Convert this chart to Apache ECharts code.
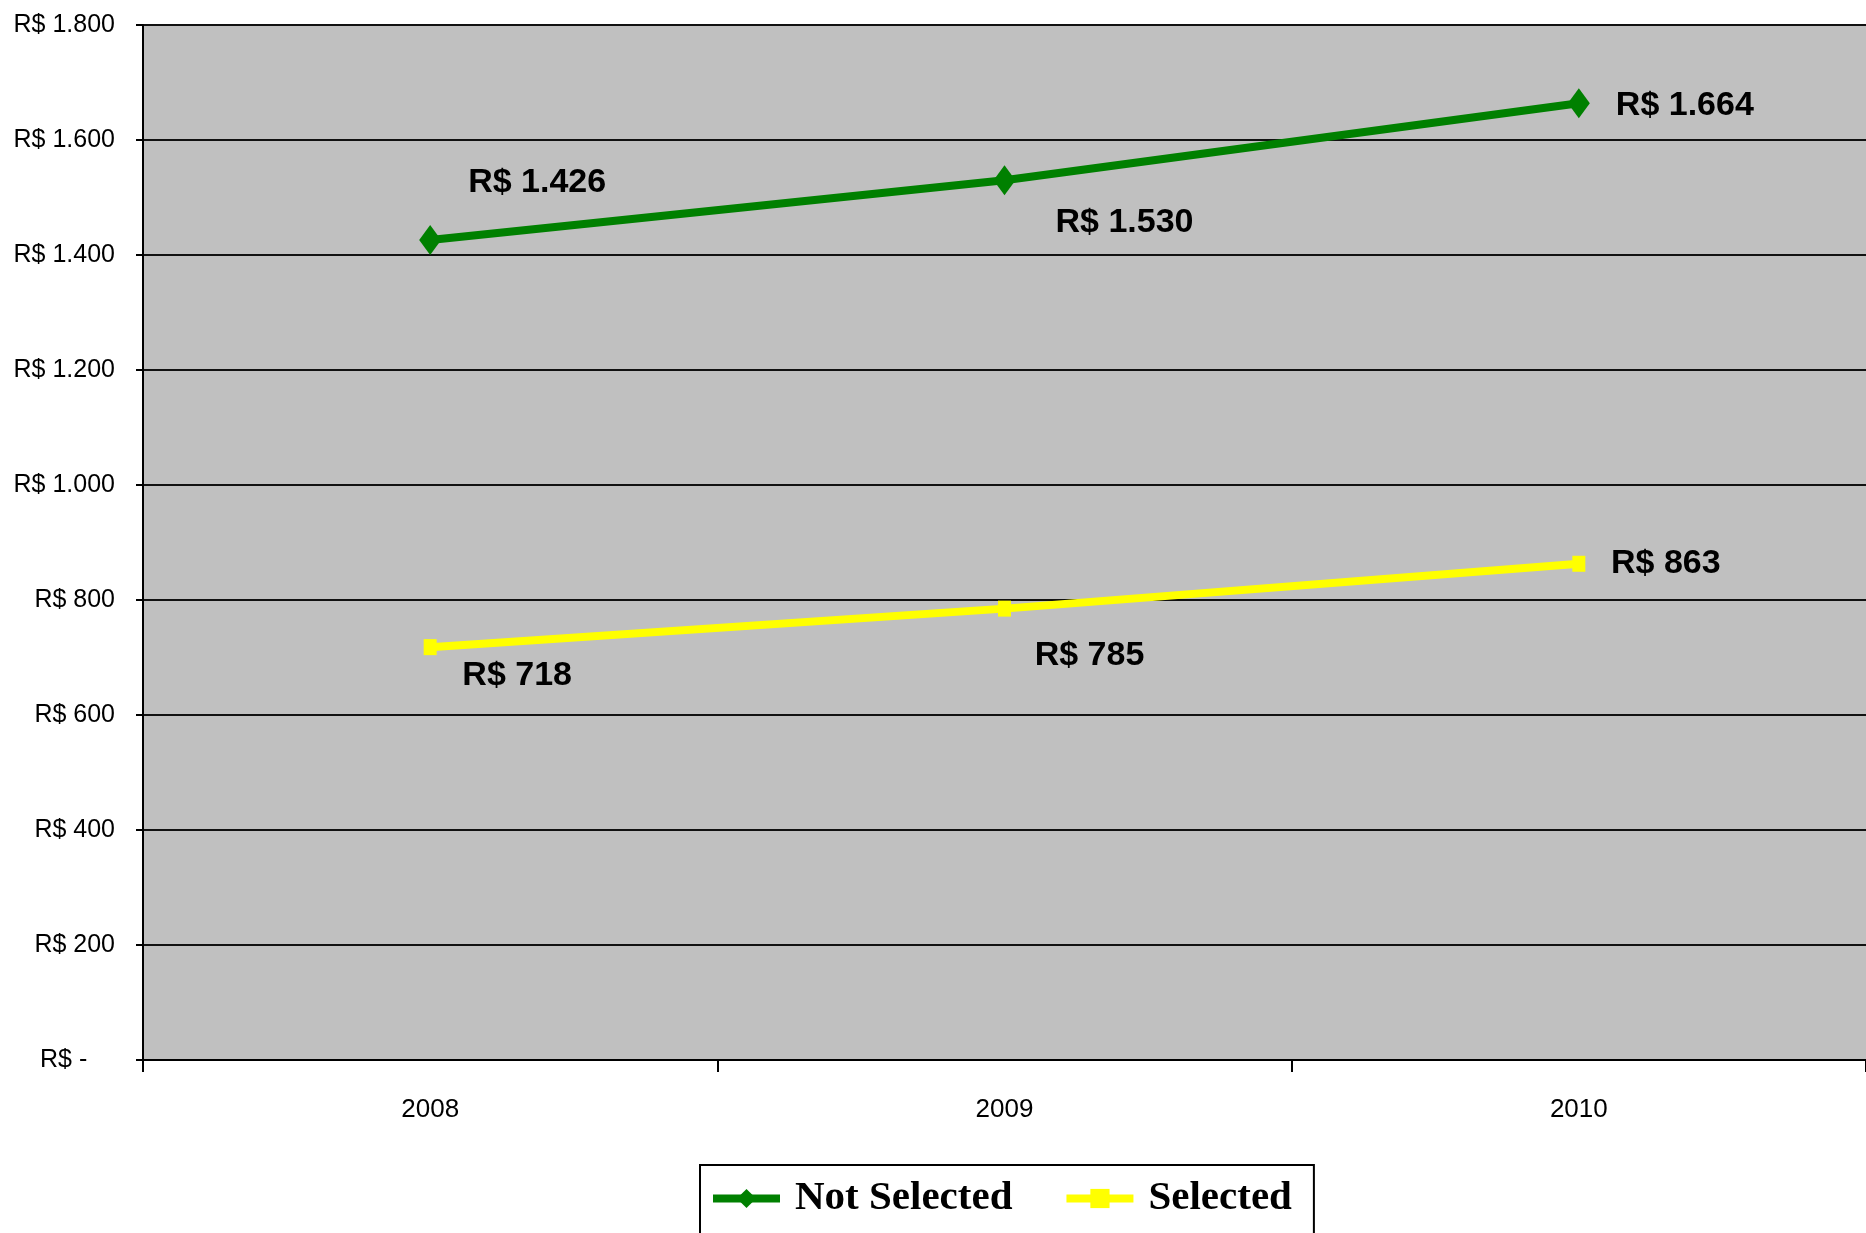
<!DOCTYPE html>
<html>
<head>
<meta charset="utf-8">
<title>Not Selected x Selected</title>
<script src="https://cdn.jsdelivr.net/npm/echarts/dist/echarts.min.js"></script>
<style>
  html, body { margin: 0; padding: 0; background: #fff; }
  #chart { width: 1866px; height: 1233px; }
</style>
</head>
<body>
<div id="chart"></div>
<script>
// 数据
var years = ['2008', '2009', '2010'];
var notSelected = [1426, 1530, 1664];
var selected = [718, 785, 863];
var yTicks = { min: 0, max: 1800, step: 200 };

// 标签偏移（相对数据点中心）
var notSelectedOffsets = [[107, -57], [120, 42], [106, 2]];
var selectedOffsets = [[87, 28], [85, 47], [87, 0]];

var sansFont = '"Liberation Sans", Arial, sans-serif';

// 千位用点分隔
function brl(v) {
    if (v === 0) return 'R$ -    ';
    return 'R$ ' + String(v).replace(/\B(?=(\d{3})+(?!\d))/g, '.');
}

function buildData(values, offsets) {
    return values.map(function (v, i) {
        return { value: v, label: { offset: offsets[i] } };
    });
}

var labelStyle = {
    show: true,
    position: 'inside',
    formatter: function (p) { return brl(p.value); },
    fontFamily: sansFont,
    fontWeight: 'bold',
    fontSize: 34,
    color: '#000'
};

var chart = echarts.init(document.getElementById('chart'));
chart.setOption({
    animation: false,
    backgroundColor: '#fff',
    grid: {
        left: 143, top: 25, right: -5, bottom: 173,
        show: true, backgroundColor: '#c0c0c0', borderWidth: 0
    },
    legend: {
        left: 700, top: 1165,
        padding: [13, 22, 40, 9],
        borderColor: '#000', borderWidth: 2,
        itemWidth: 67, itemHeight: 24, itemGap: 50,
        lineStyle: { width: 8 },
        textStyle: {
            fontFamily: '"Liberation Serif", "DejaVu Serif", serif',
            fontWeight: 'bold', fontSize: 41, color: '#000', padding: [0, 0, 0, 10]
        },
        data: ['Not Selected', 'Selected']
    },
    xAxis: {
        type: 'category',
        data: years,
        boundaryGap: true,
        axisLine: { lineStyle: { color: '#000', width: 2 } },
        axisTick: { show: true, inside: false, length: 12, lineStyle: { color: '#000', width: 2 } },
        axisLabel: { margin: 37, fontFamily: sansFont, fontSize: 26, color: '#000' },
        splitLine: { show: false }
    },
    yAxis: {
        type: 'value',
        min: yTicks.min, max: yTicks.max, interval: yTicks.step,
        axisLine: { show: true, lineStyle: { color: '#000', width: 2 } },
        axisTick: { show: true, length: 7, lineStyle: { color: '#000', width: 2 } },
        axisLabel: { margin: 28, fontFamily: sansFont, fontSize: 25, color: '#000', formatter: brl },
        splitLine: { show: true, lineStyle: { color: '#111', width: 2 } }
    },
    series: [
        {
            name: 'Not Selected',
            type: 'line',
            data: buildData(notSelected, notSelectedOffsets),
            symbol: 'diamond',
            symbolSize: [22, 30],
            lineStyle: { color: '#008000', width: 8 },
            itemStyle: { color: '#008000' },
            label: labelStyle,
            z: 3
        },
        {
            name: 'Selected',
            type: 'line',
            data: buildData(selected, selectedOffsets),
            symbol: 'rect',
            symbolSize: [13, 16],
            lineStyle: { color: '#ffff00', width: 8 },
            itemStyle: { color: '#ffff00' },
            label: labelStyle,
            z: 3
        }
    ]
});
</script>
</body>
</html>
